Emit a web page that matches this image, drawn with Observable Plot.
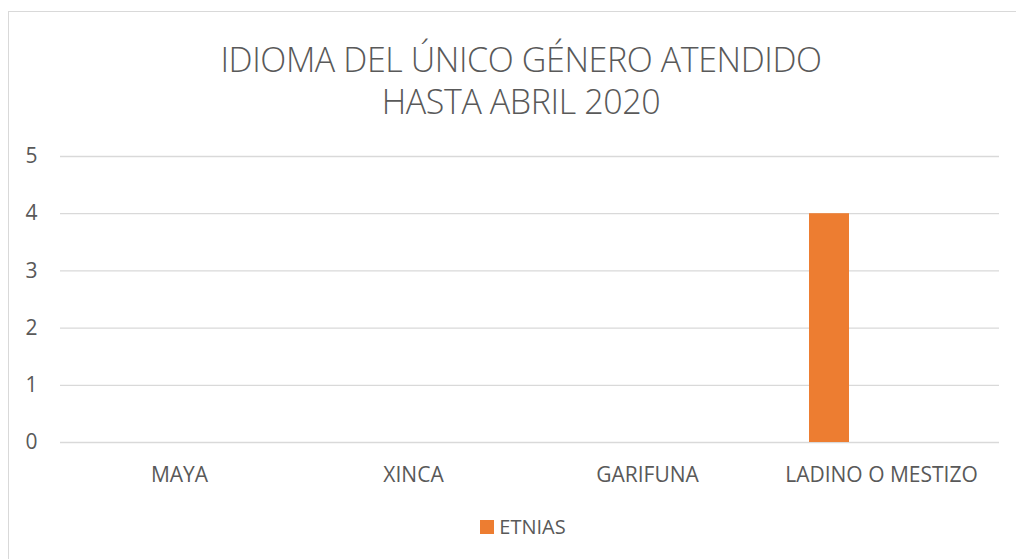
<!DOCTYPE html>
<html><head><meta charset="utf-8">
<script src="https://cdn.jsdelivr.net/npm/d3@7"></script>
<script src="https://cdn.jsdelivr.net/npm/@observablehq/plot@0.6"></script>
<style>
html,body{margin:0;padding:0;background:#fff;overflow:hidden;}
#wrap{position:relative;width:1016px;height:559px;overflow:hidden;font-family:"Open Sans",sans-serif;color:#595959;}
#frame{position:absolute;left:8px;top:11px;width:1100px;height:700px;border:1px solid #d9d9d9;box-sizing:border-box;}
#title{position:absolute;left:0;width:1042px;top:38px;text-align:center;font-size:34px;font-weight:300;line-height:42px;letter-spacing:-0.4px;}
#chart{position:absolute;left:0;top:140px;}
#legend{position:absolute;left:0;width:1046px;top:513px;text-align:center;font-size:20px;line-height:28px;}
#legend span.sw{display:inline-block;width:14px;height:14px;background:#ED7D31;vertical-align:0px;margin-right:5px;}
</style></head>
<body><div id="wrap"><div id="frame"></div>
<div id="title">IDIOMA DEL ÚNICO GÉNERO ATENDIDO<br>HASTA ABRIL 2020</div>
<div id="chart"></div>
<div id="legend"><span class="sw"></span>ETNIAS</div>
</div>
<script>
const categories = ["MAYA", "XINCA", "GARIFUNA", "LADINO O MESTIZO"];
const values = [0, 0, 0, 4];
const seriesName = "ETNIAS";
const yTicks = [0, 1, 2, 3, 4, 5];

const data = categories.map((c, i) => ({category: c, value: values[i], series: seriesName}));

const plot = Plot.plot({
  width: 1016,
  height: 360,
  marginLeft: 60,
  marginRight: 17,
  marginTop: 16,
  marginBottom: 58,
  style: {fontFamily: "Open Sans, sans-serif", fontSize: "21px", color: "#595959", background: "transparent"},
  x: {domain: categories, padding: 0, label: null, tickSize: 0, tickPadding: 25},
  y: {domain: [0, 5], ticks: yTicks, label: null, tickSize: 0, tickPadding: 23, tickFormat: d => String(d)},
  marks: [
    Plot.gridY(yTicks, {stroke: "#d9d9d9", strokeOpacity: 1, strokeWidth: 1.3}),
    Plot.barY(data.filter(d => d.value > 0), {x: "category", y: "value", fill: "#ED7D31", insetLeft: 45, insetRight: 149})
  ]
});
plot.querySelectorAll("[aria-label='x-axis tick label'] text, [aria-label='y-axis tick label'] text").forEach(t => t.setAttribute("fill", "#595959"));
document.getElementById("chart").appendChild(plot);
</script>
</body></html>
